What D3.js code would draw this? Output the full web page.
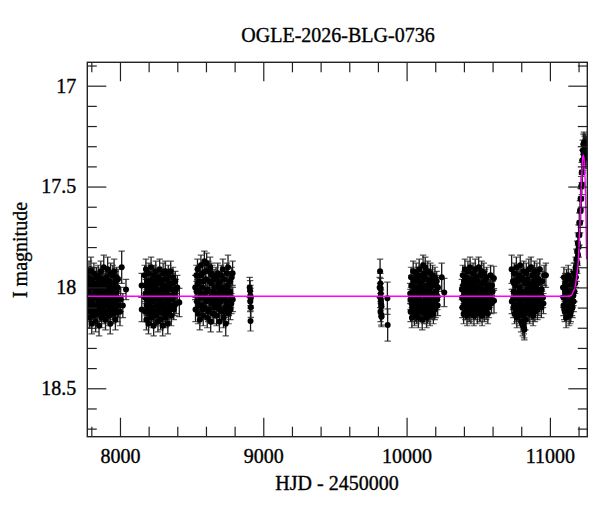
<!DOCTYPE html>
<html>
<head>
<meta charset="utf-8">
<script src="https://cdn.jsdelivr.net/npm/d3@7"></script>
<style>
  body { margin: 0; background: #fff; }
  text { font-family: "Liberation Serif", "DejaVu Serif", serif; fill: #000; }
</style>
</head>
<body>
<svg id="chart" width="600" height="512"></svg>
<script>
// photometry, [HJD-2450000, I mag, err]; err defaults to typicalErr
var typicalErr = 0.05;
var season1 = [[7776,17.95],[7778,18.10],[7781,18.02],[7784,17.92],[7786,18.15],[7789,18.06],[7792,17.98],[7795,18.12],[7797,17.91,0.06],[7800,18.04],[7803,18.18],[7806,17.96],[7809,18.08],[7812,18.00],[7815,18.14],[7818,17.93],[7821,18.05],[7824,18.11],[7827,17.99],[7830,18.17],[7833,18.03],[7836,17.95],[7839,18.09],[7842,18.13],[7845,18.01],[7848,17.94],[7851,18.07],[7854,18.19],[7857,17.97],[7860,18.04],[7863,18.12],[7866,17.92],[7869,18.06],[7872,18.15],[7875,18.00],[7878,17.96],[7881,18.10],[7884,18.03],[7887,17.90,0.06],[7890,18.13],[7893,18.07],[7896,17.98],[7899,18.16],[7902,18.02],[7905,17.95],[7908,18.09],[7911,18.05],[7914,17.91,0.06],[7917,18.12],[7920,18.00],[7923,18.14],[7926,17.97],[7929,18.06],[7932,18.18],[7935,17.93],[7938,18.03],[7941,18.10],[7944,17.99],[7947,18.08],[7950,17.94],[7953,18.13],[7956,18.04],[7959,17.92,0.06],[7962,18.11],[7965,18.01],[7968,18.16],[7971,17.97],[7974,18.07],[7978,18.02],[7982,18.12],[7986,17.96],[7990,18.09,0.06],[8000,18.12,0.07],[8005,18.06,0.06],[8012,17.90,0.08],[8020,18.09,0.06],[8042,18.01,0.05],
  [7777,18.06],[7783,18.00],[7788,17.97],[7794,18.08],[7799,17.99],[7805,18.11],[7811,18.05],[7817,18.09],[7823,17.98],[7829,18.02],[7835,18.13],[7841,18.04],[7847,18.10],[7853,17.99],[7859,18.08],[7865,18.03],[7871,17.98],[7877,18.11],[7883,18.06],[7889,18.00],[7895,18.09],[7901,17.97],[7907,18.04],[7913,18.12],[7919,18.07],[7925,18.01],[7931,18.10],[7937,17.98],[7943,18.05],[7949,18.11],[7955,17.99],[7961,18.03],[7967,18.08],[7973,18.12],[7977,17.95],[7981,18.05],[7984,18.00]];
var season2 = [[8151,17.99,0.06],[8152,18.11,0.06],[8172,17.94],[8175,18.12],[8178,18.03],[8181,17.91],[8184,18.16],[8187,18.06],[8190,17.97],[8193,18.10],[8196,18.01],[8199,18.18],[8202,17.93],[8205,18.08],[8208,18.13],[8211,17.99],[8214,18.04],[8217,17.90],[8220,18.15],[8223,18.07],[8226,17.96],[8229,18.11],[8232,18.02],[8235,18.19],[8238,17.94],[8241,18.06],[8244,18.12],[8247,18.00],[8250,17.92],[8253,18.14],[8256,18.05],[8259,17.98],[8262,18.09],[8265,18.17],[8268,17.95],[8271,18.03],[8274,18.12],[8277,17.91],[8280,18.07],[8283,18.16],[8286,18.01],[8289,17.97],[8292,18.10],[8295,18.04],[8298,18.19],[8301,17.93],[8304,18.08],[8307,18.13],[8310,17.99],[8313,18.05],[8316,17.92],[8319,18.15],[8322,18.02],[8325,18.11],[8328,17.96],[8331,18.07],[8334,18.18],[8337,17.94],[8340,18.04],[8343,18.12],[8346,17.98],[8350,18.09],[8354,17.92],[8358,18.14],[8362,18.01],[8366,18.06],[8370,17.95],[8375,18.11],[8380,18.03],[8386,17.97],[8392,18.08],[8400,18.00,0.06],[8414,18.075,0.07],
  [8174,18.05],[8180,17.99],[8186,18.09],[8192,18.03],[8198,17.97],[8204,18.12],[8210,18.06],[8216,18.01],[8222,18.10],[8228,17.98],[8234,18.05],[8240,18.13],[8246,18.03],[8252,17.97],[8258,18.09],[8264,18.02],[8270,18.11],[8276,18.05],[8282,17.98],[8288,18.08],[8294,18.12],[8300,18.01],[8306,17.96],[8312,18.10],[8318,18.04],[8324,17.99],[8330,18.13],[8336,18.07],[8342,18.00],[8348,18.05],[8356,18.10],[8364,17.98],[8372,18.04],[8382,18.09],[8390,18.01]];
var season3 = [[8525,18.00,0.06],[8527,18.11,0.06],[8533,17.94],[8537,18.07],[8541,17.91],[8545,18.13],[8549,18.02],[8553,17.97],[8557,18.16],[8561,18.05],[8565,17.89],[8569,18.09],[8573,18.00],[8577,17.93],[8581,18.14],[8585,18.04],[8589,17.87],[8593,18.10],[8597,17.96],[8601,18.07],[8605,17.88],[8609,18.15],[8613,18.01],[8617,17.92],[8621,18.11],[8625,18.05],[8629,17.90],[8633,18.17],[8637,17.98],[8641,18.08],[8645,17.94],[8649,18.13],[8653,18.02],[8657,17.96],[8661,18.10],[8666,18.06],[8670,17.95],[8674,18.14],[8678,18.00],[8682,17.93],[8686,18.09],[8690,18.04],[8694,18.17],[8698,17.97],[8702,18.07],[8706,17.94],[8710,18.12],[8714,18.02],[8718,17.91],[8722,18.15],[8726,18.05],[8730,17.96],[8734,18.10],[8738,18.18,0.06],[8742,18.01],[8746,17.93],[8750,18.08],[8754,17.90,0.06],[8758,18.13],[8762,18.03],[8766,17.97],[8770,18.11],[8775,18.05],[8780,17.95],[8786,17.93,0.06],[8787,18.06,0.06],
  [8535,18.02],[8543,17.98],[8551,18.09],[8559,17.94],[8567,18.03],[8575,18.11],[8583,17.97],[8591,18.05],[8599,17.92],[8607,18.02],[8615,18.12],[8623,17.97],[8631,18.06],[8639,17.93],[8647,18.04],[8655,18.13],[8663,18.00],[8672,18.08],[8680,18.03],[8688,17.98],[8696,18.11],[8704,18.01],[8712,18.06],[8720,18.00],[8728,18.12],[8736,18.03],[8744,18.07],[8752,17.99],[8760,18.09],[8768,18.02],[8777,18.08]];
var group8900 = [[8905,18.00],[8908,18.016],[8910,18.04],[8912,18.054],[8909,18.07],[8913,18.098],[8911,18.166]];
var group9800 = [[9812,18.00],[9815,17.92,0.06],[9817,17.98],[9819,18.005],[9820,18.03],[9821,18.063],[9822,18.08],[9823,18.096],[9818,18.12],[9824,18.137],[9825,18.145],[9816,18.05],[9866,18.054,0.08],[9868,18.186,0.08]];
var season4 = [[10025,18.03],[10028,18.12],[10031,17.95],[10034,18.08],[10037,18.15],[10040,17.99],[10043,18.05],[10046,17.92],[10049,18.11],[10052,18.02],[10055,18.14],[10058,17.96],[10061,18.07],[10064,18.00],[10067,17.93],[10070,18.13],[10073,18.04],[10076,18.09],[10079,17.97],[10082,18.15],[10085,18.01],[10088,17.91],[10091,18.06],[10094,18.12],[10097,17.98],[10100,18.03],[10103,17.94],[10106,18.10],[10109,18.16],[10112,18.00],[10115,17.89],[10118,18.07],[10121,18.13],[10124,17.95],[10127,18.04],[10130,17.90],[10133,18.11],[10136,18.02],[10139,18.15],[10142,17.96],[10145,18.08],[10148,17.92],[10151,18.12],[10154,18.01],[10157,18.06],[10160,17.97],[10163,18.14],[10166,17.93],[10169,18.09],[10172,18.03],[10175,17.99],[10178,18.11],[10181,17.94],[10184,18.05],[10187,18.13],[10190,17.98],[10194,18.07],[10198,17.95],[10202,18.10],[10206,18.02],[10210,17.97],[10214,18.06],[10219,18.00],[10245,17.95,0.07],[10263,18.025,0.07],
  [10027,18.06],[10033,17.99],[10039,18.10],[10045,18.04],[10051,17.97],[10057,18.09],[10063,18.12],[10069,18.02],[10075,17.95],[10081,18.06],[10087,18.10],[10093,18.00],[10099,18.08],[10105,17.97],[10111,18.12],[10117,18.03],[10123,17.93],[10129,18.09],[10135,18.05],[10141,17.99],[10147,18.13],[10153,18.04],[10159,18.10],[10165,18.00],[10171,18.07],[10177,17.96],[10183,18.10],[10189,18.03],[10196,18.11],[10204,17.99],[10212,18.04],[10217,18.09]];
var season5 = [[10386,18.01],[10389,18.10],[10392,17.94],[10395,18.06],[10398,18.13],[10401,17.97],[10404,18.03],[10407,17.91],[10410,18.11],[10413,18.00],[10416,18.08],[10419,17.95],[10422,18.14],[10425,18.04],[10428,17.92],[10431,18.09],[10434,18.02],[10437,17.98],[10440,18.12],[10443,17.90],[10446,18.06],[10449,18.13],[10452,18.00],[10455,17.96],[10458,18.10],[10461,18.03],[10464,17.93],[10467,18.08],[10470,18.14],[10473,17.99],[10476,18.05],[10479,17.91],[10482,18.11],[10485,18.01],[10488,17.95],[10491,18.09],[10494,18.13],[10497,17.97],[10500,18.04],[10503,17.90],[10506,18.07],[10509,18.12],[10512,18.00],[10515,17.94],[10518,18.10],[10521,18.03],[10524,17.92],[10527,18.14],[10530,18.06],[10533,17.98],[10536,18.09],[10539,17.93],[10542,18.12],[10545,18.02],[10548,17.96],[10551,18.07],[10555,18.11],[10559,17.95],[10563,18.04],[10567,18.13],[10571,17.99],[10575,18.06],[10580,18.01],[10586,17.94],[10592,18.08],[10600,18.02],[10609,17.955,0.06],[10610,18.066,0.06],
  [10388,18.05],[10394,17.99],[10400,18.09],[10406,18.03],[10412,17.96],[10418,18.11],[10424,18.00],[10430,18.06],[10436,18.12],[10442,18.02],[10448,17.97],[10454,18.08],[10460,18.04],[10466,17.98],[10472,18.11],[10478,18.03],[10484,17.96],[10490,18.06],[10496,18.10],[10502,18.00],[10508,18.05],[10514,18.12],[10520,17.98],[10526,18.06],[10532,18.01],[10538,18.10],[10544,17.97],[10550,18.04],[10557,18.09],[10565,18.00],[10573,18.10],[10583,18.05],[10596,17.99]];
var season6 = [[10733,17.91,0.07],[10734,18.07,0.06],[10742,17.97],[10745,18.10],[10748,18.02],[10751,17.93],[10754,18.13],[10757,18.05],[10760,17.99],[10763,18.09],[10766,17.90],[10769,18.15],[10772,18.03],[10775,17.96],[10778,18.11],[10781,18.06],[10784,17.94],[10787,18.14],[10790,18.00],[10793,17.89],[10796,18.08],[10799,18.17],[10802,18.02],[10805,17.95],[10808,18.12],[10811,18.19],[10814,18.04],[10817,17.92],[10818,18.18],[10820,18.20],[10822,18.21],[10823,18.09],[10826,17.98],[10829,18.16],[10832,18.06],[10835,17.93],[10838,18.12],[10841,18.01],[10844,17.96],[10847,18.10],[10850,18.04],[10853,17.91],[10856,18.07],[10859,18.13],[10862,17.99],[10865,18.03],[10868,17.90],[10871,18.11],[10874,18.05],[10877,17.94],[10880,18.09],[10883,18.14],[10886,17.97],[10889,18.02],[10892,17.92],[10895,18.12],[10898,18.06],[10901,17.95],[10905,18.08],[10909,17.93],[10913,18.11],[10917,18.01],[10921,17.96],[10925,18.07],[10930,17.91],[10935,18.03],[10940,18.10],[10946,17.97],[10952,18.05],[10960,17.94],[10972,17.94,0.06],
  [10743,18.06],[10749,17.98],[10755,18.09],[10761,18.03],[10767,18.12],[10773,17.97],[10779,18.05],[10785,18.10],[10791,18.02],[10797,17.96],[10803,18.10],[10809,18.06],[10815,18.14],[10821,18.13],[10827,18.03],[10833,18.09],[10839,17.97],[10845,18.05],[10851,18.12],[10857,18.00],[10863,18.08],[10869,18.04],[10875,17.98],[10881,18.11],[10887,18.06],[10893,18.00],[10899,18.10],[10907,18.03],[10915,17.98],[10923,18.09],[10932,18.05],[10943,18.01],[10955,18.08]];
var season7 = [[11092,18.00],[11095,18.09],[11098,17.95],[11101,18.05],[11104,18.12],[11107,17.98],[11110,18.03],[11113,18.15],[11116,17.96],[11119,18.07],[11122,18.01],[11125,18.11],[11128,17.94],[11131,18.05],[11134,18.14],[11137,17.99],[11140,18.08],[11143,18.02],[11146,18.12],[11149,17.96],[11152,18.06],[11155,18.00],[11158,18.10],[11161,17.97],[11164,18.04],[11167,17.93],[11170,17.97],[11171,18.02],[11175,17.93],[11176,17.98],[11180,17.90],[11181,17.95],[11185,17.86],[11186,17.92],[11190,17.82],[11191,17.88],[11195,17.78],[11196,17.84],[11200,17.74],[11201,17.80],[11205,17.68],[11206,17.74],[11210,17.62],[11211,17.68],[11214,17.56],[11215,17.62],[11218,17.50],[11219,17.56],[11222,17.43],[11223,17.49],[11226,17.37],[11227,17.43],[11230,17.32],[11231,17.37],[11234,17.29],[11235,17.34],[11238,17.28],[11239,17.33],[11242,17.30],[11243,17.35],[11246,17.29],[11247,17.34],[11250,17.31],[11251,17.36],[11254,17.30],
  [11094,18.05],[11100,18.11],[11106,18.02],[11112,18.08],[11118,18.00],[11124,18.06],[11130,18.10],[11136,18.03],[11142,18.13],[11148,18.04],[11154,18.09],[11160,18.02],[11166,18.07]];

// model fit
var modelHjd = [7772, 11120, 11150, 11163, 11175, 11186, 11198, 11205, 11211, 11216, 11221, 11226, 11230, 11234, 11238, 11243, 11248, 11252, 11256];
var modelMag = [18.044, 18.044, 18.040, 18.02, 18.00, 17.95, 17.87, 17.77, 17.66, 17.56, 17.47, 17.39, 17.35, 17.344, 17.36, 17.42, 17.52, 17.66, 17.86];

var xMajor = [8000, 9000, 10000, 11000];
var xMinor = [7800, 8200, 8400, 8600, 8800, 9200, 9400, 9600, 9800, 10200, 10400, 10600, 10800, 11200];
var yMajor = [17, 17.5, 18, 18.5];
var yMinor = [16.9, 17.1, 17.2, 17.3, 17.4, 17.6, 17.7, 17.8, 17.9, 18.1, 18.2, 18.3, 18.4, 18.6, 18.7];

var title = "OGLE-2026-BLG-0736";
var xLabel = "HJD - 2450000";
var yLabel = "I magnitude";

var svg = d3.select("#chart");
var plotLeft = 87.3, plotRight = 587.3, plotTop = 62.3, plotBottom = 436.7;

var x = d3.scaleLinear().domain([7772, 11261]).range([plotLeft, plotRight]);
var y = d3.scaleLinear().domain([16.884, 18.74]).range([plotTop, plotBottom]);

var points = [].concat(season1, season2, season3, group8900, group9800, season4, season5, season6, season7);
function err(d) { return d[2] || typicalErr; }

svg.append("clipPath").attr("id", "plotclip")
  .append("rect").attr("x", plotLeft).attr("y", plotTop)
  .attr("width", plotRight - plotLeft).attr("height", plotBottom - plotTop);

var plot = svg.append("g").attr("clip-path", "url(#plotclip)");

// error bar caps first (grey), then the stems, then the points on top
var caps = plot.append("g").attr("stroke", "#555").attr("stroke-width", 1.2);
points.forEach(function(d) {
  var px = x(d[0]);
  [d[1] - err(d), d[1] + err(d)].forEach(function(m) {
    caps.append("line").attr("x1", px - 3.2).attr("x2", px + 3.2).attr("y1", y(m)).attr("y2", y(m));
  });
});
plot.append("g").attr("stroke", "#1a1a1a").attr("stroke-width", 1.3)
  .selectAll("line").data(points).join("line")
  .attr("x1", function(d) { return x(d[0]); })
  .attr("x2", function(d) { return x(d[0]); })
  .attr("y1", function(d) { return y(d[1] - err(d)); })
  .attr("y2", function(d) { return y(d[1] + err(d)); });

plot.append("g").selectAll("circle").data(points).join("circle")
  .attr("cx", function(d) { return x(d[0]); })
  .attr("cy", function(d) { return y(d[1]); })
  .attr("r", 3)
  .attr("fill", "#000");

var model = modelHjd.map(function(h, i) { return [h, modelMag[i]]; });
plot.append("path").datum(model)
  .attr("fill", "none").attr("stroke", "#ff00ff").attr("stroke-width", 1.4)
  .attr("d", d3.line().x(function(d) { return x(d[0]); }).y(function(d) { return y(d[1]); }).curve(d3.curveMonotoneX));

// axes, ticks mirrored on all four sides and pointing inward
function styleAxis(g) {
  g.select(".domain").remove();
  g.selectAll(".tick line").attr("stroke", "#222").attr("stroke-width", 1.2);
  g.selectAll("text").attr("font-size", 20).attr("font-family", "Liberation Serif, serif")
    .attr("fill", "#000").attr("stroke", "#000").attr("stroke-width", 0.35);
}
svg.append("g").attr("transform", "translate(0," + plotBottom + ")")
  .call(d3.axisBottom(x).tickValues(xMajor).tickSize(-19).tickPadding(12).tickFormat(d3.format("d"))).call(styleAxis);
svg.append("g").attr("transform", "translate(0," + plotBottom + ")")
  .call(d3.axisBottom(x).tickValues(xMinor).tickSize(-10).tickFormat("")).call(styleAxis);
svg.append("g").attr("transform", "translate(0," + plotTop + ")")
  .call(d3.axisTop(x).tickValues(xMajor).tickSize(-19).tickFormat("")).call(styleAxis);
svg.append("g").attr("transform", "translate(0," + plotTop + ")")
  .call(d3.axisTop(x).tickValues(xMinor).tickSize(-10).tickFormat("")).call(styleAxis);
svg.append("g").attr("transform", "translate(" + plotLeft + ",0)")
  .call(d3.axisLeft(y).tickValues(yMajor).tickSize(-19).tickPadding(11).tickFormat(d3.format("~g"))).call(styleAxis);
svg.append("g").attr("transform", "translate(" + plotLeft + ",0)")
  .call(d3.axisLeft(y).tickValues(yMinor).tickSize(-9.5).tickFormat("")).call(styleAxis);
svg.append("g").attr("transform", "translate(" + plotRight + ",0)")
  .call(d3.axisRight(y).tickValues(yMajor).tickSize(-19).tickFormat("")).call(styleAxis);
svg.append("g").attr("transform", "translate(" + plotRight + ",0)")
  .call(d3.axisRight(y).tickValues(yMinor).tickSize(-9.5).tickFormat("")).call(styleAxis);

svg.append("rect").attr("x", plotLeft).attr("y", plotTop)
  .attr("width", plotRight - plotLeft).attr("height", plotBottom - plotTop)
  .attr("fill", "none").attr("stroke", "#222").attr("stroke-width", 1.4);

var labels = svg.append("g").attr("font-size", 20).attr("stroke", "#000").attr("stroke-width", 0.35);
labels.append("text").attr("x", 338).attr("y", 42).attr("text-anchor", "middle").text(title);
labels.append("text").attr("x", 337).attr("y", 490).attr("text-anchor", "middle").text(xLabel);
labels.append("text").attr("transform", "translate(27,250) rotate(-90)").attr("text-anchor", "middle").text(yLabel);
</script>
</body>
</html>
